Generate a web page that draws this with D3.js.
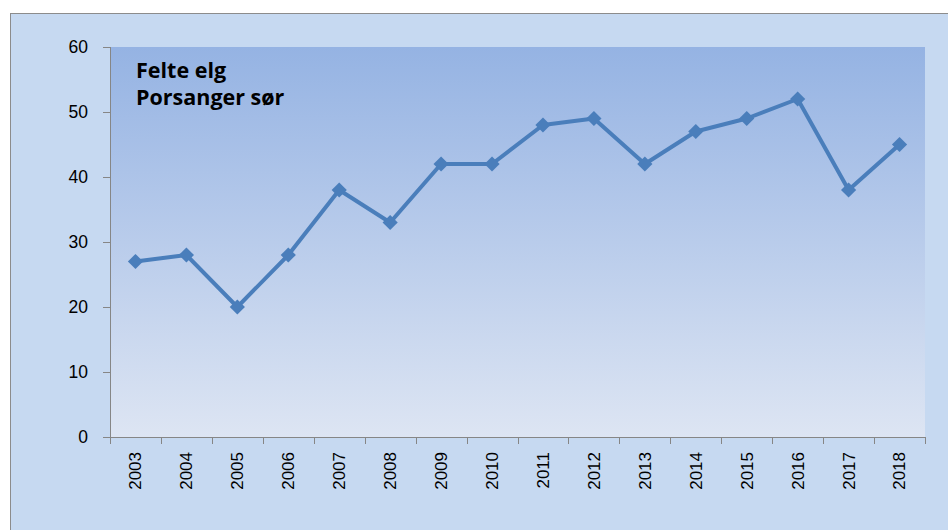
<!DOCTYPE html>
<html><head><meta charset="utf-8">
<script src="https://cdn.jsdelivr.net/npm/d3@7"></script>
<style>html,body{margin:0;padding:0;background:#fff;}svg{display:block;}</style>
</head><body>
<svg id="c" width="948" height="530"></svg>
<script>
const years = ["2003","2004","2005","2006","2007","2008","2009","2010","2011","2012","2013","2014","2015","2016","2017","2018"];
const felteElg = [27,28,20,28,38,33,42,42,48,49,42,47,49,52,38,45];
const yTicks = [0,10,20,30,40,50,60];
const titleLines = ["Felte elg","Porsanger sør"];

const svg = d3.select("#c");
const defs = svg.append("defs");
const grad = defs.append("linearGradient").attr("id","pg").attr("x1",0).attr("y1",0).attr("x2",0).attr("y2",1);
grad.append("stop").attr("offset","0%").attr("stop-color","#95B3E3");
grad.append("stop").attr("offset","100%").attr("stop-color","#DDE5F3");

// chart area
svg.append("rect").attr("x",10.5).attr("y",13.5).attr("width",950).attr("height",530)
  .attr("fill","#C6D9F1").attr("stroke","#8C8C8C").attr("stroke-width",1);

const m = {l:110, t:47, r:925, b:437};
const x = d3.scaleBand().domain(years).range([m.l, m.r]).padding(0);
const y = d3.scaleLinear().domain([0,60]).range([m.b, m.t]);

svg.append("rect").attr("x",m.l).attr("y",m.t).attr("width",m.r-m.l).attr("height",m.b-m.t).attr("fill","url(#pg)");

// y axis
const ya = svg.append("g").attr("transform",`translate(${m.l},0)`)
  .call(d3.axisLeft(y).tickValues(yTicks).tickSize(7).tickPadding(15));
ya.selectAll("text").attr("font-family","Liberation Sans, Arial, sans-serif").attr("font-size",17.5).attr("fill","#000");
ya.selectAll("line,path").attr("stroke","#868686");
ya.select(".domain").attr("d",`M0.5,${m.t}V${m.b}`);

// x axis
const xa = svg.append("g").attr("transform",`translate(0,${m.b})`)
  .call(d3.axisBottom(x).tickSize(0).tickPadding(0));
xa.select(".domain").attr("stroke","#868686").attr("d",`M${m.l},0.5H${m.r}`);
xa.selectAll(".tick line").remove();
xa.selectAll("text").attr("font-family","Liberation Sans, Arial, sans-serif").attr("font-size",17).attr("fill","#000")
  .attr("transform","rotate(-90)").attr("text-anchor","end").attr("x",-15).attr("y",0).attr("dy","0.35em");
const bounds = years.map(d => x(d)).concat([m.r]);
svg.append("g").selectAll("line").data(bounds).join("line")
  .attr("x1",d=>Math.round(d)+0.5).attr("x2",d=>Math.round(d)+0.5).attr("y1",m.b).attr("y2",m.b+7)
  .attr("stroke","#868686");

// line
const line = d3.line().x((d,i)=>x(years[i])+x.bandwidth()/2).y(d=>y(d));
svg.append("path").datum(felteElg).attr("d",line).attr("fill","none")
  .attr("stroke","#4A7EBB").attr("stroke-width",4).attr("stroke-linejoin","round");
const sym = d3.symbol().type(d3.symbolSquare).size(115);
svg.append("g").selectAll("path").data(felteElg).join("path")
  .attr("d",sym).attr("transform",(d,i)=>`translate(${x(years[i])+x.bandwidth()/2},${y(d)}) rotate(45)`)
  .attr("fill","#4A7EBB");

// title
svg.append("g").selectAll("text").data(titleLines).join("text")
  .attr("x",136).attr("y",(d,i)=>78+i*27)
  .attr("font-family","Open Sans, Lato, sans-serif").attr("font-weight","bold").attr("font-size",21.5)
  .attr("fill","#000").text(d=>d);
</script>
</body></html>
